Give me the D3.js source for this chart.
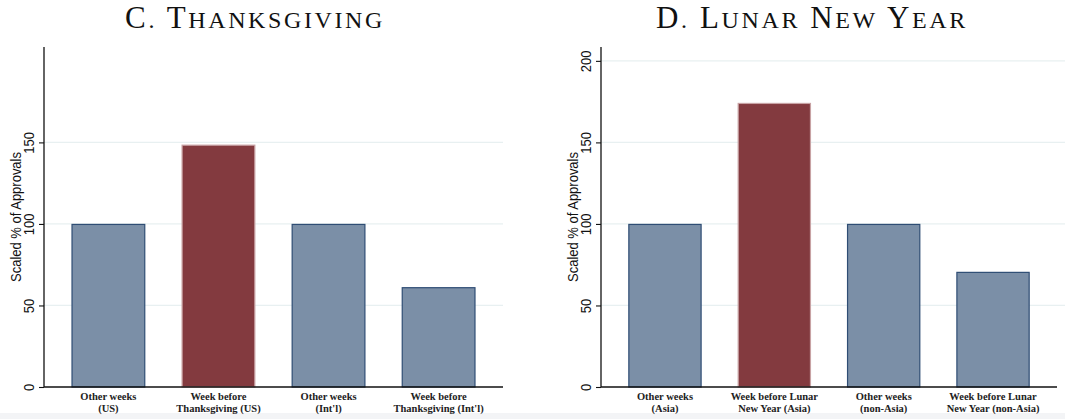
<!DOCTYPE html>
<html>
<head>
<meta charset="utf-8">
<script src="https://cdn.jsdelivr.net/npm/d3@7"></script>
<style>
  html, body { margin: 0; padding: 0; background: #fff; }
  svg { display: block; }
</style>
</head>
<body>
<svg id="chart" width="1065" height="419"></svg>
<script>
// ---- Data ----
const titleC = "C. Thanksgiving";
const categoriesC = [["Other weeks", "(US)"], ["Week before", "Thanksgiving (US)"], ["Other weeks", "(Int'l)"], ["Week before", "Thanksgiving (Int'l)"]];
const valuesC = [100, 148.6, 100, 61.2];
const highlightC = [false, true, false, false];
const ticksC = [0, 50, 100, 150];

const titleD = "D. Lunar New Year";
const categoriesD = [["Other weeks", "(Asia)"], ["Week before Lunar", "New Year (Asia)"], ["Other weeks", "(non-Asia)"], ["Week before Lunar", "New Year (non-Asia)"]];
const valuesD = [100, 174.2, 100, 70.6];
const highlightD = [false, true, false, false];
const ticksD = [0, 50, 100, 150, 200];

const yTitle = "Scaled % of Approvals";
const yMax = 208.5;

// ---- Drawing ----
const svg = d3.select("#chart");
svg.append("rect").attr("x", 0).attr("y", 413).attr("width", 1065).attr("height", 6).attr("fill", "#f3f4f6");

function panel(cfg) {
  const g = svg.append("g");
  const x = d3.scaleBand().domain(d3.range(cfg.values.length))
    .range([cfg.left, cfg.right]).paddingInner(0.33).paddingOuter(0.25);
  const y = d3.scaleLinear().domain([0, yMax]).range([387, 47]);

  // gridlines
  g.selectAll("line.grid").data(cfg.ticks.filter(d => d > 0)).enter().append("line")
    .attr("x1", cfg.left).attr("x2", cfg.gridRight)
    .attr("y1", d => y(d)).attr("y2", d => y(d))
    .attr("stroke", "#e8f0f1").attr("stroke-width", 1.2);

  // bars
  g.selectAll("rect.bar").data(cfg.values).enter().append("rect")
    .attr("x", (d, i) => x(i) + 0.5)
    .attr("width", x.bandwidth() - 1)
    .attr("y", d => y(d) + 0.5)
    .attr("height", d => y(0) - y(d) - 0.5)
    .attr("fill", (d, i) => cfg.highlight[i] ? "#833a3f" : "#7b8fa7")
    .attr("stroke", (d, i) => cfg.highlight[i] ? "#c8a2a4" : "#2f4d74")
    .attr("stroke-width", 1.2);

  // y axis
  const yAxis = d3.axisLeft(y).tickValues(cfg.ticks).tickSize(5).tickFormat(d3.format("d"));
  const ya = g.append("g").attr("transform", `translate(${cfg.left},0)`).call(yAxis);
  ya.select(".domain").attr("d", `M0,${y(yMax)}V${y(0)}`).attr("stroke", "#111").attr("stroke-width", 1.3);
  ya.selectAll(".tick line").attr("stroke", "#111").attr("stroke-width", 1.1);
  ya.selectAll(".tick text")
    .attr("x", null).attr("dy", null)
    .attr("text-anchor", "middle")
    .attr("font-family", "Liberation Sans, Arial, sans-serif")
    .attr("font-size", 13).attr("fill", "#111")
    .attr("transform", "translate(-10.5,0) rotate(-90) scale(1,1.13)");

  // x axis
  const xa = g.append("g").attr("transform", "translate(0,387)")
    .call(d3.axisBottom(x).tickSize(0).tickFormat(""));
  xa.select(".domain").attr("d", `M${cfg.left},0H${cfg.right}`).attr("stroke", "#111").attr("stroke-width", 1.3);
  xa.selectAll(".tick").each(function (d) {
    const t = d3.select(this).append("text")
      .attr("text-anchor", "middle")
      .attr("font-family", "Liberation Serif, Times New Roman, serif")
      .attr("font-weight", "bold")
      .attr("font-size", 10.5).attr("fill", "#222");
    cfg.cats[d].forEach((line, k) => {
      t.append("tspan").attr("x", 0).attr("y", 13 + k * 11.5).text(line);
    });
  });

  // y title
  g.append("text")
    .attr("transform", `translate(${cfg.left - 23},217) rotate(-90) scale(1,1.13)`)
    .attr("text-anchor", "middle")
    .attr("font-family", "Liberation Sans, Arial, sans-serif")
    .attr("font-size", 13).attr("fill", "#111")
    .text(yTitle);

  // panel title in small caps (built by hand)
  const tt = g.append("text")
    .attr("x", cfg.titleX).attr("y", 28)
    .attr("text-anchor", "middle")
    .attr("font-family", "Liberation Serif, Times New Roman, serif")
    .attr("letter-spacing", 2.6)
    .attr("font-size", 31).attr("fill", "#111");
  const words = cfg.title.split(" ");
  words.forEach((w, wi) => {
    tt.append("tspan").text((wi > 0 ? " " : "") + w[0]);
    if (w.length > 1) {
      tt.append("tspan").attr("font-size", 24).text(w.slice(1).toUpperCase());
    }
  });
}

panel({ left: 44, right: 503, gridRight: 503, values: valuesC, highlight: highlightC, ticks: ticksC, cats: categoriesC, title: titleC, titleX: 255 });
panel({ left: 601, right: 1057, gridRight: 1065, values: valuesD, highlight: highlightD, ticks: ticksD, cats: categoriesD, title: titleD, titleX: 812 });
</script>
</body>
</html>
